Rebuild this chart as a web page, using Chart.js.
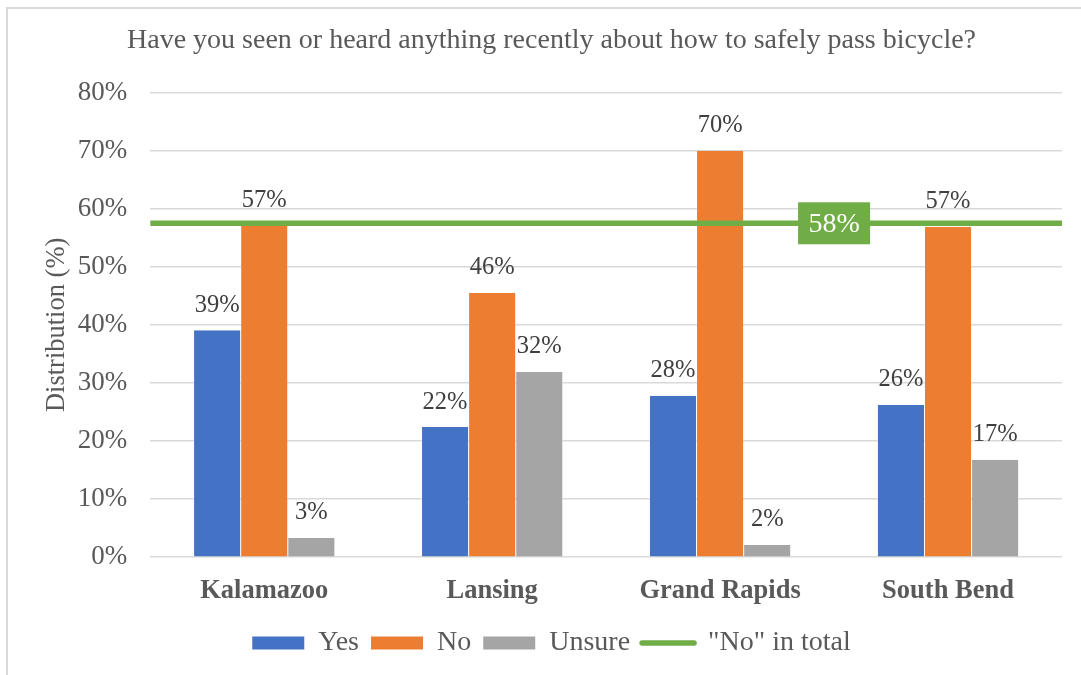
<!DOCTYPE html>
<html>
<head>
<meta charset="utf-8">
<script src="https://cdn.jsdelivr.net/npm/chart.js@4.4.1/dist/chart.umd.min.js"></script>
<style>
  html, body { margin: 0; padding: 0; background: #fff; }
  #wrap { width: 1081px; height: 675px; position: relative; }
</style>
</head>
<body>
<div id="wrap"><canvas id="surveyChart"></canvas></div>
<script>
// city categories and answers (percent)
const cities = ["Kalamazoo", "Lansing", "Grand Rapids", "South Bend"];
const yesData = [39.1, 22.4, 27.8, 26.2];
const noData = [57.1, 45.5, 70.0, 56.9];
const unsureData = [3.3, 31.9, 2.1, 16.8];
const noTotal = 57.5;
const noTotalLabel = "58%";
const yTicks = [0, 10, 20, 30, 40, 50, 60, 70, 80];

const serif = "'Liberation Serif', 'Times New Roman', serif";

// x runs 0..4, one unit per city, so the total line can span the full width
const toPoints = arr => arr.map((v, i) => ({ x: i + 0.5, y: v }));
const cityTicks = cities.map((c, i) => i + 0.5);

// % labels above bars and the boxed label on the total line
const labelPlugin = {
    id: "labels",
    afterDatasetsDraw(chart) {
        let ctx = chart.ctx;
        ctx.save();
        ctx.textAlign = "center";
        ctx.textBaseline = "middle";
        chart.data.datasets.forEach((ds, i) => {
            let meta = chart.getDatasetMeta(i);
            if (ds.type === "line") {
                let pt = meta.data[1];
                ctx.font = "28px " + serif;
                ctx.fillStyle = "#70ad47";
                ctx.fillRect(pt.x - 36, pt.y - 21, 72, 42);
                ctx.fillStyle = "#ffffff";
                ctx.fillText(noTotalLabel, pt.x, pt.y + 1);
                return;
            }
            ctx.font = "24.5px " + serif;
            ctx.fillStyle = "#404040";
            meta.data.forEach((bar, j) => {
                ctx.fillText(Math.round(ds.data[j].y) + "%", bar.x, bar.y - 25);
            });
        });
        ctx.restore();
    }
};

// white background plus top and left frame line
const framePlugin = {
    id: "frame",
    beforeDraw(chart) {
        let ctx = chart.ctx;
        ctx.save();
        ctx.fillStyle = "#fff";
        ctx.fillRect(0, 0, chart.width, chart.height);
        ctx.strokeStyle = "#d9d9d9";
        ctx.lineWidth = 2;
        ctx.beginPath();
        ctx.moveTo(7, chart.height);
        ctx.lineTo(7, 8);
        ctx.lineTo(chart.width, 8);
        ctx.stroke();
        ctx.restore();
    }
};

const barBorder = { left: 0.5, right: 0.5 };

new Chart(document.getElementById("surveyChart"), {
    type: "bar",
    data: {
        datasets: [
            { label: "Yes", data: toPoints(yesData), backgroundColor: "#4472c4", borderColor: "#ffffff", borderWidth: barBorder, order: 2 },
            { label: "No", data: toPoints(noData), backgroundColor: "#ed7d31", borderColor: "#ffffff", borderWidth: barBorder, order: 2 },
            { label: "Unsure", data: toPoints(unsureData), backgroundColor: "#a5a5a5", borderColor: "#ffffff", borderWidth: barBorder, order: 2 },
            {
                type: "line",
                label: "\"No\" in total",
                data: [{ x: 0, y: noTotal }, { x: 3, y: noTotal }, { x: 4, y: noTotal }],
                borderColor: "#70ad47",
                backgroundColor: "#70ad47",
                borderWidth: 5.5,
                borderCapStyle: "round",
                pointRadius: 0,
                order: 1
            }
        ]
    },
    options: {
        responsive: true,
        maintainAspectRatio: false,
        animation: false,
        layout: { padding: { top: 20, left: 41, right: 19, bottom: 8 } },
        datasets: {
            bar: { categoryPercentage: 0.62, barPercentage: 1.0 }
        },
        scales: {
            x: {
                type: "linear",
                min: 0,
                max: 4,
                offset: false,
                afterBuildTicks: axis => { axis.ticks = cityTicks.map(v => ({ value: v })); },
                grid: { display: false },
                border: { display: false },
                ticks: {
                    color: "#595959",
                    padding: 10,
                    autoSkip: false,
                    maxRotation: 0,
                    font: { family: serif, size: 26.5, weight: "bold" },
                    callback: v => cities[Math.floor(v)]
                }
            },
            y: {
                min: 0,
                max: 80,
                afterBuildTicks: axis => { axis.ticks = yTicks.map(v => ({ value: v })); },
                afterFit: axis => { axis.width -= 23; },
                grid: { color: "#d9d9d9", lineWidth: 1.5, drawTicks: false },
                border: { display: false },
                ticks: {
                    color: "#595959",
                    padding: 23,
                    font: { family: serif, size: 27 },
                    callback: v => v + "%"
                },
                title: {
                    display: true,
                    text: "Distribution (%)",
                    color: "#595959",
                    padding: { top: 0, bottom: 5 },
                    font: { family: serif, size: 26.5 }
                }
            }
        },
        plugins: {
            title: {
                display: true,
                text: "Have you seen or heard anything recently about how to safely pass bicycle?",
                color: "#595959",
                padding: { top: 4, bottom: 35 },
                font: { family: serif, size: 28, weight: "normal" }
            },
            legend: {
                position: "bottom",
                labels: {
                    color: "#595959",
                    font: { family: serif, size: 28 },
                    usePointStyle: true,
                    pointStyleWidth: 52,
                    boxHeight: 13,
                    padding: 12,
                    generateLabels(chart) {
                        return chart.data.datasets.map((ds, i) => ({
                            text: ds.label,
                            fillStyle: ds.backgroundColor,
                            strokeStyle: ds.type === "line" ? ds.borderColor : ds.backgroundColor,
                            lineWidth: ds.type === "line" ? 5.5 : 0,
                            lineCap: "round",
                            pointStyle: ds.type === "line" ? "line" : "rect",
                            fontColor: "#595959",
                            datasetIndex: i
                        }));
                    }
                }
            },
            tooltip: { enabled: false }
        }
    },
    plugins: [framePlugin, labelPlugin]
});
</script>
</body>
</html>
